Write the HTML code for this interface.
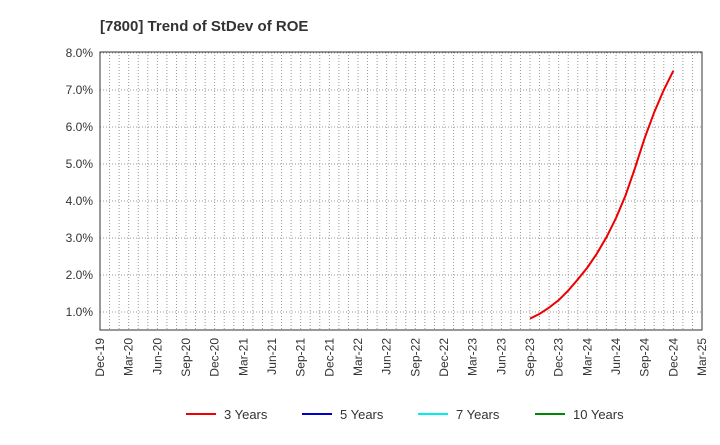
<!DOCTYPE html>
<html><head><meta charset="utf-8"><style>
body{margin:0;background:#fff;font-family:"Liberation Sans",Arial,sans-serif;}
svg text{font-family:"Liberation Sans",Arial,sans-serif;}
</style></head><body>
<svg id="chart" width="720" height="440" xmlns="http://www.w3.org/2000/svg">
<text x="100" y="31" font-size="15" font-weight="bold" fill="#333">[7800]  Trend of StDev of ROE</text>
<g id="grid"></g><g id="axes"></g><g id="series"></g>
<g font-size="13" fill="#333">
<g><line x1="186" y1="414" x2="216" y2="414" stroke="#e00" stroke-width="2"/><text x="224" y="419">3 Years</text></g>
<g><line x1="302" y1="414" x2="332" y2="414" stroke="#00c" stroke-width="2"/><text x="340" y="419">5 Years</text></g>
<g><line x1="418" y1="414" x2="448" y2="414" stroke="#0ee" stroke-width="2"/><text x="456" y="419">7 Years</text></g>
<g><line x1="535" y1="414" x2="565" y2="414" stroke="#080" stroke-width="2"/><text x="573" y="419">10 Years</text></g>
</g>
</svg>
<script>
const xTickLabels=["Dec-19","Mar-20","Jun-20","Sep-20","Dec-20","Mar-21","Jun-21","Sep-21","Dec-21","Mar-22","Jun-22","Sep-22","Dec-22","Mar-23","Jun-23","Sep-23","Dec-23","Mar-24","Jun-24","Sep-24","Dec-24","Mar-25"];
const yTicks=[1,2,3,4,5,6,7,8];
const startMonthIndex=45; // months after Dec-19 (Sep-23)
const series3=[0.82,0.95,1.12,1.32,1.58,1.88,2.2,2.58,3.02,3.54,4.15,4.9,5.7,6.4,7.0,7.52];
const NS="http://www.w3.org/2000/svg";
const L=100,R=702,T=52,B=330;
const xm=m=>L+(R-L)*m/63;
const y=v=>312-(v-1)*37;
function mk(t,a,p){const e=document.createElementNS(NS,t);for(const k in a)e.setAttribute(k,a[k]);p.appendChild(e);return e;}
const g=document.getElementById('grid'),ax=document.getElementById('axes'),s=document.getElementById('series');
for(let m=1;m<63;m++){const l=mk('line',{x1:xm(m),x2:xm(m),y1:T,y2:B,stroke:'#999','stroke-dasharray':'1,2','stroke-width':1},g);

}
yTicks.forEach(v=>{const l=mk('line',{x1:L,x2:R,y1:y(v),y2:y(v),stroke:'#999','stroke-dasharray':'1,2'},g);


const t=mk('text',{x:L-7,y:y(v)+4,'text-anchor':'end','font-size':12,fill:'#333'},ax);t.textContent=v.toFixed(1)+'%';

});
const f=mk('rect',{x:L,y:T,width:R-L,height:B-T,fill:'none',stroke:'#333'},ax);


xTickLabels.forEach((lb,i)=>{const x=xm(i*3);const t=mk('text',{transform:`translate(${x+4},${B+8}) rotate(-90)`,'text-anchor':'end','font-size':12,fill:'#333'},ax);t.textContent=lb;

});
const p=mk('polyline',{points:series3.map((v,i)=>xm(startMonthIndex+i)+','+y(v)).join(' '),fill:'none',stroke:'#e00','stroke-width':2},s);


</script>
</body></html>
